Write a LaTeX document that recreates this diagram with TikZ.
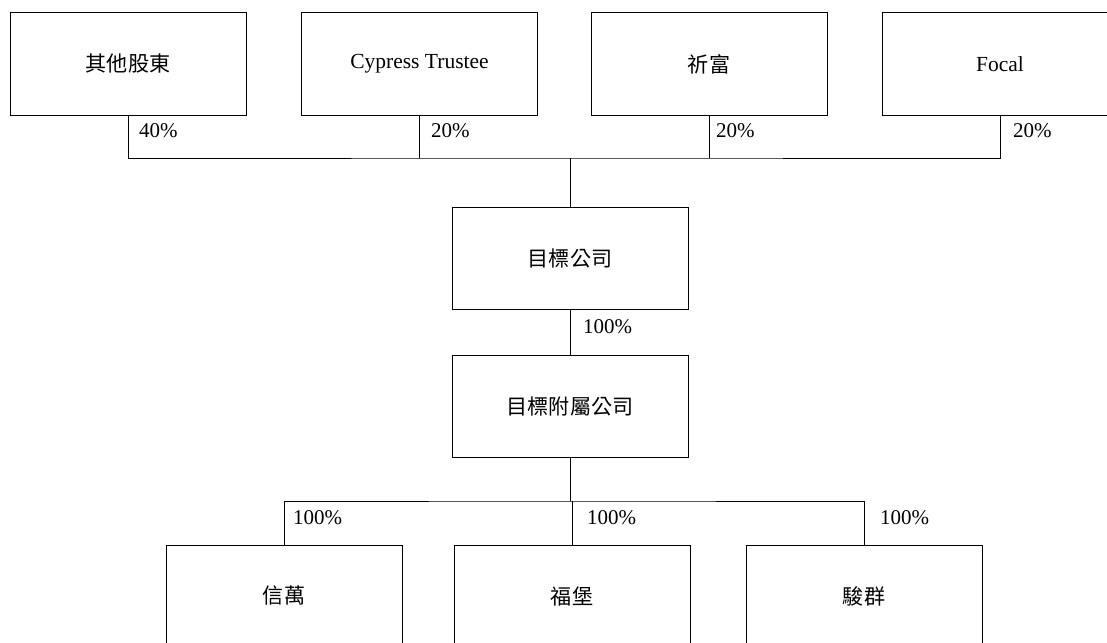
\documentclass[tikz,border=0pt]{standalone}
\usepackage{fontspec}
\setmainfont{Liberation Serif}
\newfontfamily\cjk{Noto Sans CJK TC}[Scale=0.98]
\begin{document}
\begin{tikzpicture}[x=1pt,y=-1pt,
  box/.style={draw,line width=1pt,minimum width=236pt,minimum height=102pt,inner sep=0pt,font=\fontsize{21.5}{25}\selectfont},
  pct/.style={anchor=west,inner sep=0pt,font=\fontsize{21}{24}\selectfont},
  conn/.style={line width=1pt}]
\useasboundingbox (0,0) rectangle (1107,642);
\clip (0,0) rectangle (1107,642);
% top row
\node[box] (a) at (128,64) {\cjk 其他股東};
\node[box] (b) at (419.5,64) {Cypress Trustee};
\node[box] (c) at (709,64) {\cjk 祈富};
\node[box] (d) at (1000,64) {Focal};
\coordinate (bus) at (570,158);
\node[box] (t) at (570,258) {\cjk 目標公司};
\node[box] (s) at (570,406) {\cjk 目標附屬公司};
\coordinate (bus2) at (570,501);
\node[box] (x) at (284,596) {\cjk 信萬};
\node[box] (y) at (572,596) {\cjk 福堡};
\node[box] (z) at (864,596) {\cjk 駿群};
% connectors top
\draw[conn] (a.south) |- (bus) -| (d.south);
\draw[conn] (b.south) -- (b.south |- bus);
\draw[conn] (c.south) -- (c.south |- bus);
\draw[conn] (bus) -- (t.north);
\draw[conn] (t.south) -- (s.north);
\draw[conn] (s.south) -- (bus2);
\draw[conn] (x.north) |- (bus2) -| (z.north);
\draw[conn] (y.north) -- (y.north |- bus2);
% labels
\node[pct] (la) at (139,131) {40\%};
\node[pct] (lb) at (431,131) {20\%};
\node[pct] (lc) at (716,131) {20\%};
\node[pct] (ld) at (1013,131) {20\%};
\node[pct] (lt) at (583,327) {100\%};
\node[pct] (lx) at (293,518) {100\%};
\node[pct] (ly) at (587,518) {100\%};
\node[pct] (lz) at (880,518) {100\%};
\end{tikzpicture}
\end{document}
